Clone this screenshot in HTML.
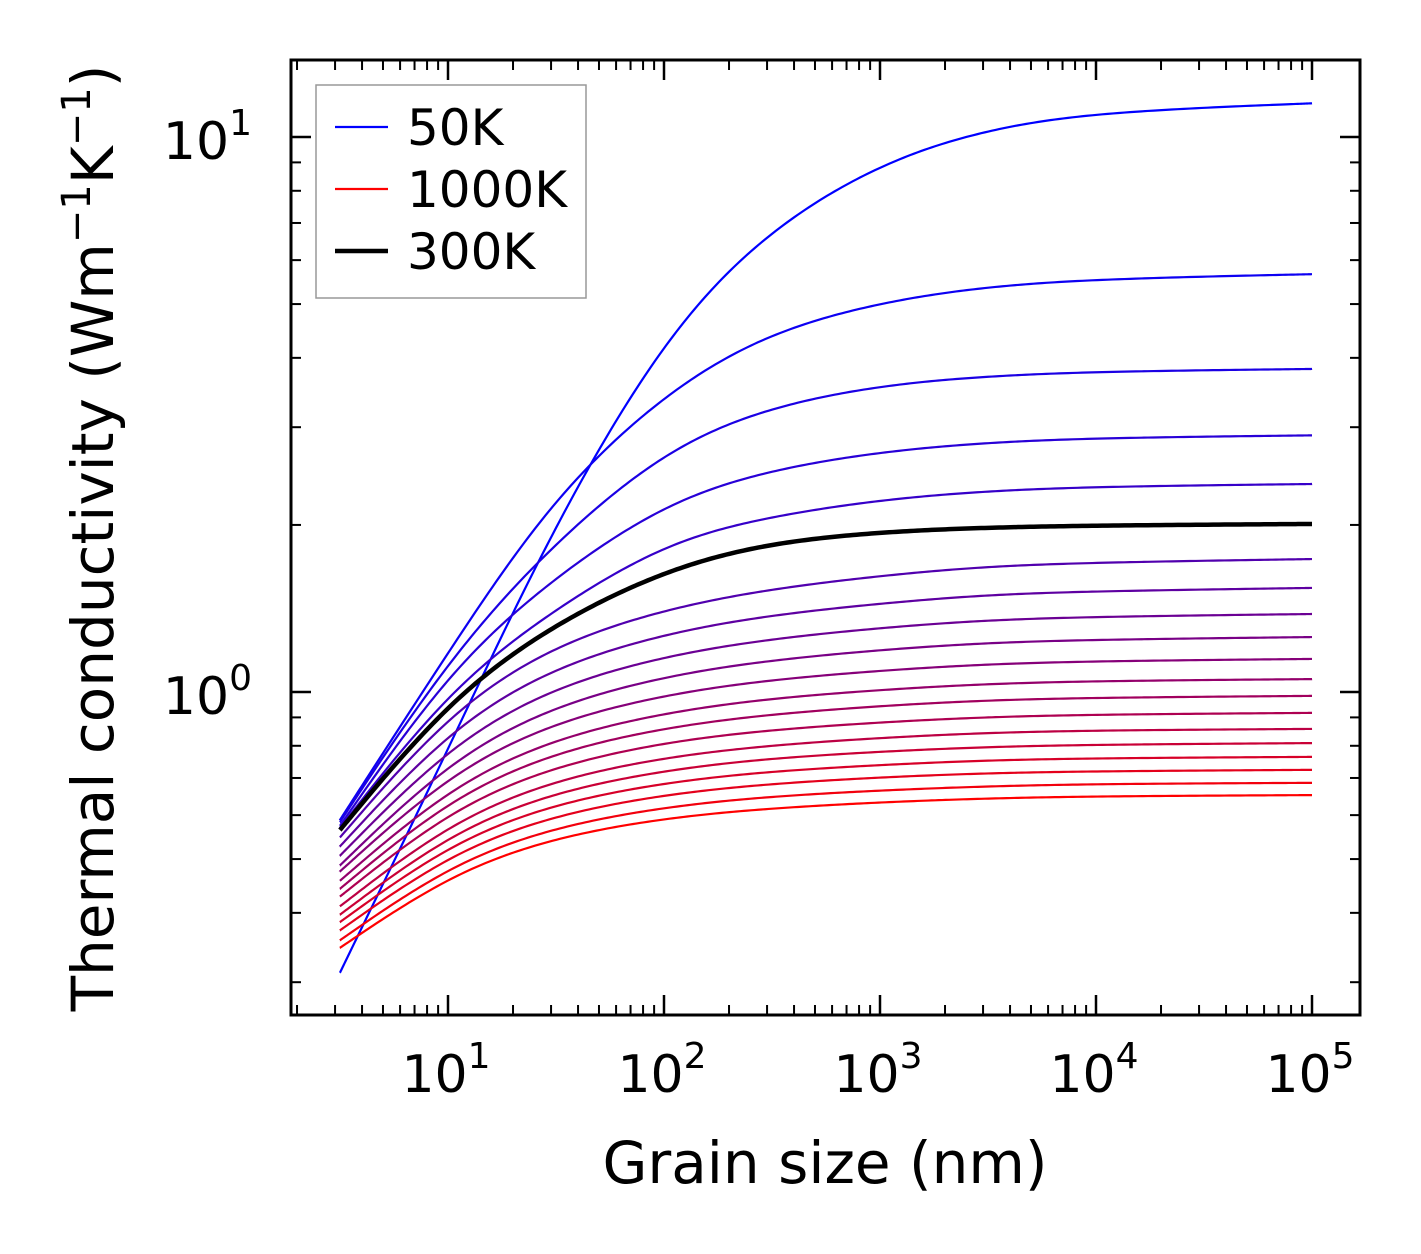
<!DOCTYPE html>
<html><head><meta charset="utf-8"><style>
html,body{margin:0;padding:0;background:#fff;}
svg{display:block;font-family:"DejaVu Sans","Liberation Sans",sans-serif;}
</style></head><body>
<svg id="chart" width="1421" height="1254" viewBox="0 0 1421 1254" xmlns="http://www.w3.org/2000/svg">
<rect x="0" y="0" width="1421" height="1254" fill="#fff"/>
<g id="ticks"></g>
<g id="curves"></g>
<rect x="291" y="60" width="1069" height="955" fill="none" stroke="#000" stroke-width="3"/>
<g id="labels" font-size="52"></g>
<text x="825" y="1183" font-size="58" text-anchor="middle">Grain size (nm)</text>
<text transform="translate(113,538) rotate(-90)" font-size="58" text-anchor="middle">Thermal conductivity (Wm<tspan font-size="40" dy="-23">−1</tspan><tspan dy="23">K</tspan><tspan font-size="40" dy="-23">−1</tspan><tspan dy="23">)</tspan></text>
<g>
<rect x="316" y="85" width="270" height="213" fill="#fff" stroke="#999" stroke-width="1.5"/>
<line x1="335" y1="127" x2="388" y2="127" stroke="#0000ff" stroke-width="2.2"/>
<text x="407" y="145" font-size="50">50K</text>
<line x1="335" y1="189" x2="388" y2="189" stroke="#ff0000" stroke-width="2.2"/>
<text x="407" y="207" font-size="50">1000K</text>
<line x1="335" y1="251" x2="388" y2="251" stroke="#000" stroke-width="4.5"/>
<text x="407" y="269" font-size="50">300K</text>
</g>
</svg>
<script>
const grainSizes = [3.16, 10, 30, 100, 300, 1000, 3000, 10000, 100000];
const temperatures = [50,100,150,200,250,300,350,400,450,500,550,600,650,700,750,800,850,900,950,1000];
const k50 = [0.312, 0.786, 1.96, 4.38, 6.80, 8.98, 10.3, 11.1, 11.5];
const k100 = [0.588, 1.18, 2.23, 3.46, 4.44, 5.04, 5.37, 5.55, 5.66];
const k150 = [0.583, 1.147, 1.84, 2.73, 3.26, 3.57, 3.705, 3.78, 3.82];
const k200 = [0.574, 1.091, 1.598, 2.19, 2.51, 2.71, 2.813, 2.87, 2.90];
const k250 = [0.569, 1.008, 1.40, 1.856, 2.07, 2.22, 2.301, 2.345, 2.37];
const k300 = [0.564, 0.967, 1.320, 1.659, 1.856, 1.943, 1.978, 1.996, 2.008];
const k350 = [0.547, 0.917, 1.212, 1.410, 1.531, 1.620, 1.683, 1.712, 1.736];
const k400 = [0.527, 0.855, 1.107, 1.274, 1.374, 1.444, 1.496, 1.520, 1.540];
const k450 = [0.507, 0.799, 1.019, 1.161, 1.245, 1.305, 1.347, 1.367, 1.382];
const k500 = [0.487, 0.751, 0.943, 1.068, 1.140, 1.191, 1.226, 1.243, 1.256];
const k550 = [0.475, 0.711, 0.881, 0.989, 1.051, 1.093, 1.122, 1.137, 1.147];
const k600 = [0.457, 0.672, 0.823, 0.918, 0.973, 1.009, 1.034, 1.047, 1.055];
const k650 = [0.442, 0.641, 0.777, 0.863, 0.911, 0.944, 0.966, 0.977, 0.984];
const k700 = [0.428, 0.611, 0.734, 0.812, 0.854, 0.882, 0.901, 0.911, 0.917];
const k750 = [0.411, 0.580, 0.693, 0.763, 0.801, 0.827, 0.844, 0.853, 0.858];
const k800 = [0.397, 0.555, 0.659, 0.723, 0.759, 0.781, 0.796, 0.804, 0.809];
const k850 = [0.385, 0.532, 0.628, 0.687, 0.719, 0.739, 0.753, 0.760, 0.764];
const k900 = [0.372, 0.510, 0.599, 0.654, 0.683, 0.702, 0.714, 0.720, 0.724];
const k950 = [0.357, 0.487, 0.570, 0.621, 0.648, 0.665, 0.676, 0.683, 0.686];
const k1000 = [0.346, 0.468, 0.546, 0.593, 0.617, 0.633, 0.643, 0.649, 0.652];
const series = [k50,k100,k150,k200,k250,k300,k350,k400,k450,k500,k550,k600,k650,k700,k750,k800,k850,k900,k950,k1000];
const xTickExps = [1,2,3,4,5];
const yTickExps = [0,1];

const NS = "http://www.w3.org/2000/svg";
const X0 = 448, XDEC = 216, Y0 = 692, YDEC = 555;
const PL = 291, PR = 1360, PT = 60, PB = 1015;
function xs(L){ return X0 + (Math.log10(L) - 1) * XDEC; }
function ys(k){ return Y0 - Math.log10(k) * YDEC; }
function mk(tag, attrs, parent){ const e = document.createElementNS(NS, tag); for (const a in attrs) e.setAttribute(a, attrs[a]); parent.appendChild(e); return e; }

const tg = document.getElementById('ticks');
for (let d = 0; d <= 5; d++) for (let m = 1; m <= 9; m++) {
  const v = m * Math.pow(10, d); const x = xs(v);
  if (x < PL + 1 || x > PR - 1) continue;
  const len = m === 1 ? 20 : 10, w = m === 1 ? 2.5 : 2;
  const t1 = mk('line', {x1:x, y1:PB, x2:x, y2:PB-len, stroke:'#000', 'stroke-width':w}, tg);
  
  
  const t2 = mk('line', {x1:x, y1:PT, x2:x, y2:PT+len, stroke:'#000', 'stroke-width':w}, tg);
  
  
}
for (let d = -1; d <= 1; d++) for (let m = 1; m <= 9; m++) {
  const v = m * Math.pow(10, d); const y = ys(v);
  if (y < PT + 1 || y > PB - 1) continue;
  const len = m === 1 ? 20 : 10, w = m === 1 ? 2.5 : 2;
  const t1 = mk('line', {x1:PL, y1:y, x2:PL+len, y2:y, stroke:'#000', 'stroke-width':w}, tg);
  
  
  const t2 = mk('line', {x1:PR, y1:y, x2:PR-len, y2:y, stroke:'#000', 'stroke-width':w}, tg);
  
  
}
const lg = document.getElementById('labels');
xTickExps.forEach(e => {
  const t = mk('text', {x: xs(Math.pow(10, e)) - 2, y: 1092, 'text-anchor':'middle'}, lg);
  
  
  t.innerHTML = '10<tspan font-size="36" dy="-24">' + e + '</tspan>';
});
yTickExps.forEach(e => {
  const t = mk('text', {x: 252, y: ys(Math.pow(10, e)) + 22, 'text-anchor':'end'}, lg);
  
  
  t.innerHTML = '10<tspan font-size="36" dy="-24">' + e + '</tspan>';
});

// smooth parametric cubic B-spline through (near) the sampled points, clamped at ends
function bsplinePath(pts){
  const P = [pts[0], pts[0]].concat(pts, [pts[pts.length-1], pts[pts.length-1]]);
  let d = 'M' + pts[0][0].toFixed(2) + ' ' + pts[0][1].toFixed(2);
  for (let i = 0; i < P.length - 3; i++) {
    const p0 = P[i], p1 = P[i+1], p2 = P[i+2], p3 = P[i+3];
    for (let s = 1; s <= 30; s++) {
      const t = s / 30, t2 = t*t, t3 = t2*t;
      const b0 = (1-t)*(1-t)*(1-t)/6, b1 = (3*t3 - 6*t2 + 4)/6, b2 = (-3*t3 + 3*t2 + 3*t + 1)/6, b3 = t3/6;
      const x = b0*p0[0] + b1*p1[0] + b2*p2[0] + b3*p3[0];
      const y = b0*p0[1] + b1*p1[1] + b2*p2[1] + b3*p3[1];
      d += 'L' + x.toFixed(2) + ' ' + y.toFixed(2);
    }
  }
  return d;
}
const cg = document.getElementById('curves');
let blackPath = null;
series.forEach((arr, idx) => {
  const pts = arr.map((k, i) => [xs(grainSizes[i]), ys(k)]);
  const fr = idx / (series.length - 1);
  const col = 'rgb(' + Math.round(255*fr) + ',0,' + Math.round(255*(1-fr)) + ')';
  const isBlack = temperatures[idx] === 300;
  const p = mk('path', {d: bsplinePath(pts), fill:'none', stroke: isBlack ? '#000' : col, 'stroke-width': isBlack ? 4.5 : 2.2, 'stroke-linejoin':'round'}, cg);
  
  
  if (isBlack) blackPath = p;
});
if (blackPath) cg.appendChild(blackPath);
</script>
</body></html>
